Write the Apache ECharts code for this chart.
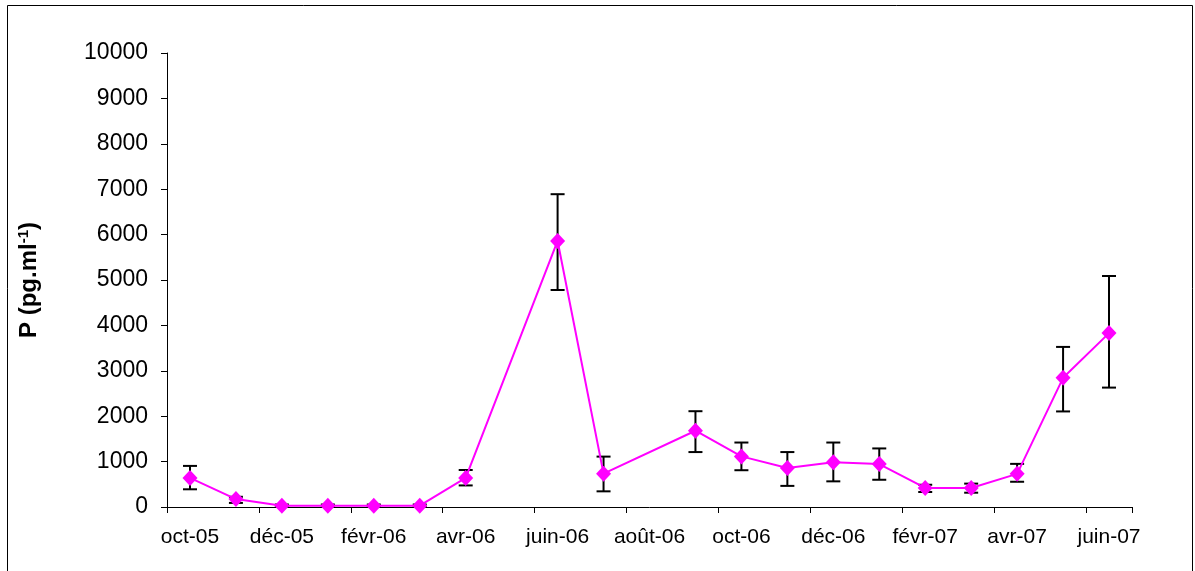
<!DOCTYPE html>
<html>
<head>
<meta charset="utf-8">
<script src="https://cdn.jsdelivr.net/npm/echarts@6/dist/echarts.min.js"></script>
<style>
html,body{margin:0;padding:0;background:#fff;}
#chart{width:1195px;height:571px;}
</style>
</head>
<body>
<div id="chart"></div>
<script>
var months = ['oct-05','nov-05','déc-05','janv-06','févr-06','mars-06','avr-06','mai-06','juin-06','juil-06','août-06','sept-06','oct-06','nov-06','déc-06','janv-07','févr-07','mars-07','avr-07','mai-07','juin-07'];
var values = [640, 175, 30, 30, 30, 30, 640, null, 5860, 735, null, 1680, 1115, 860, 985, 946, 420, 420, 730, 2845, 3830];
var errLow = [390, 90, 5, 5, 5, 5, 475, null, 4780, 345, null, 1210, 810, 465, 565, 600, 330, 315, 556, 2105, 2630];
var errHigh = [905, 225, 55, 55, 55, 55, 815, null, 6890, 1110, null, 2110, 1420, 1210, 1420, 1290, 490, 515, 950, 3526, 5088];
var yTicks = [0, 1000, 2000, 3000, 4000, 5000, 6000, 7000, 8000, 9000, 10000];

var lineData = values.map(function (v) { return v == null ? '-' : v; });
var errData = [];
for (var i = 0; i < values.length; i++) {
  if (values[i] != null) errData.push([i, errLow[i], errHigh[i]]);
}

var chart = echarts.init(document.getElementById('chart'), null, {renderer: 'canvas'});
var font = "'Liberation Sans', Arial, sans-serif";
chart.setOption({
  animation: false,
  backgroundColor: '#ffffff',
  graphic: [{
    type: 'rect',
    shape: {x: 7.5, y: 5.5, width: 1185, height: 700},
    style: {fill: 'none', stroke: '#000', lineWidth: 1},
    silent: true
  }],
  grid: {left: 167, right: 63, top: 53, bottom: 64, containLabel: false},
  xAxis: {
    type: 'category',
    data: months,
    boundaryGap: true,
    axisLine: {lineStyle: {color: '#000', width: 1}},
    axisTick: {show: true, length: 6, interval: 1, lineStyle: {color: '#000'}},
    axisLabel: {interval: 1, color: '#000', fontFamily: font, fontSize: 21, margin: 20},
    splitLine: {show: false}
  },
  yAxis: {
    type: 'value',
    min: 0, max: 10000, interval: 1000,
    name: '{b|P (pg.ml}{s|-1}{b|)}',
    nameLocation: 'middle',
    nameRotate: 90,
    nameGap: 124,
    nameTextStyle: {
      rich: {
        b: {fontFamily: font, fontSize: 24, fontWeight: 'bold', color: '#000'},
        s: {fontFamily: font, fontSize: 15, fontWeight: 'bold', color: '#000', verticalAlign: 'top', padding: [0, 0, 12, 0]}
      }
    },
    axisLine: {show: true, lineStyle: {color: '#000', width: 1}},
    axisTick: {show: true, length: 6, inside: false, lineStyle: {color: '#000'}},
    axisLabel: {color: '#000', fontFamily: font, fontSize: 23, margin: 19,
      formatter: function (v) { return yTicks.indexOf(v) >= 0 ? String(v) : ''; }},
    splitLine: {show: false}
  },
  series: [{
    type: 'custom',
    z: 1,
    data: errData,
    encode: {x: 0, y: [1, 2]},
    renderItem: function (params, api) {
      var x = api.value(0);
      var lo = api.coord([x, api.value(1)]);
      var hi = api.coord([x, api.value(2)]);
      var hw = 7;
      var st = {stroke: '#000', lineWidth: 2, fill: 'none'};
      return {
        type: 'group',
        children: [
          {type: 'line', shape: {x1: lo[0], y1: lo[1], x2: hi[0], y2: hi[1]}, style: st},
          {type: 'line', shape: {x1: lo[0] - hw, y1: lo[1], x2: lo[0] + hw, y2: lo[1]}, style: st},
          {type: 'line', shape: {x1: hi[0] - hw, y1: hi[1], x2: hi[0] + hw, y2: hi[1]}, style: st}
        ]
      };
    }
  }, {
    type: 'line',
    z: 5,
    data: lineData,
    connectNulls: true,
    symbol: 'diamond',
    symbolSize: [15, 16],
    showSymbol: true,
    lineStyle: {color: '#FF00FF', width: 2},
    itemStyle: {color: '#FF00FF', borderWidth: 0}
  }]
});
</script>
</body>
</html>
